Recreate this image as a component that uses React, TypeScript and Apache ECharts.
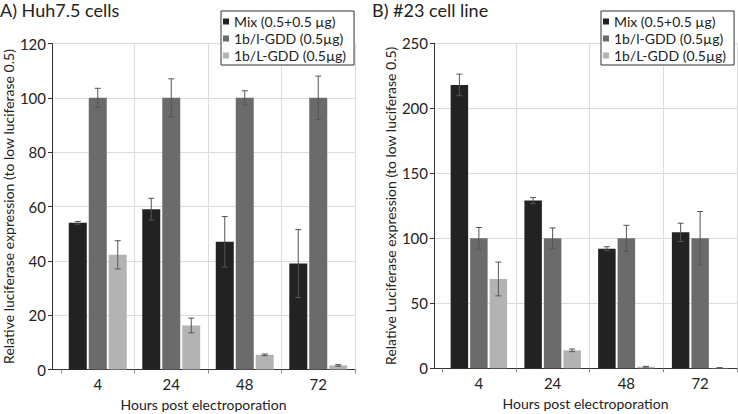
import React, { useEffect, useRef } from 'react';
import * as echarts from 'echarts';

const categories = ['4', '24', '48', '72'];
const seriesNames = ['Mix (0.5+0.5 µg)', '1b/l-GDD (0.5µg)', '1b/L-GDD (0.5µg)'];
const colors = ['#222222', '#6b6b6b', '#b3b3b3'];

// Panel A: Huh7.5 cells
const huhMix = [54, 59, 47, 39];
const huhMixErr = [0.5, 4, 9.3, 12.5];
const huhIGdd = [100, 100, 100, 100];
const huhIGddErr = [3.5, 7, 2.6, 8];
const huhLGdd = [42.2, 16.2, 5.4, 1.5];
const huhLGddErr = [5.2, 2.7, 0.3, 0.3];

// Panel B: #23 cell line
const c23Mix = [218, 129, 92, 104.6];
const c23MixErr = [8.3, 2.3, 1.5, 7];
const c23IGdd = [100, 100, 100, 100];
const c23IGddErr = [8.3, 8, 10, 20.6];
const c23LGdd = [68.7, 13.8, 1.2, 0.3];
const c23LGddErr = [13, 1, 0.3, 0.15];

const yTicksA = { min: 0, max: 120, interval: 20 };
const yTicksB = { min: 0, max: 250, interval: 50 };

const FONT = 'Lato, "Open Sans", sans-serif';
const TXT = '#222';

function App() {
  const ref = useRef<HTMLDivElement>(null);
  useEffect(() => {
    if (!ref.current) return;
    const chart = echarts.init(ref.current, undefined, { renderer: 'svg' });

    const errSeries = (name: string, vals: number[], errs: number[], k: number, ax: number, step: number) => ({
      type: 'custom',
      name,
      xAxisIndex: ax,
      yAxisIndex: ax,
      z: 5,
      silent: true,
      data: vals.map((v, i) => [i, v, errs[i]]),
      encode: { x: 0, y: 1 },
      renderItem: (params: any, api: any) => {
        const i = api.value(0);
        const v = api.value(1);
        const e = api.value(2);
        const top = api.coord([i, v + e]);
        const bot = api.coord([i, Math.max(0, v - e)]);
        const x = top[0] + (k - 1) * step;
        const st = { stroke: '#555', lineWidth: 1 };
        return {
          type: 'group',
          children: [
            { type: 'line', shape: { x1: x, y1: top[1], x2: x, y2: bot[1] }, style: st },
            { type: 'line', shape: { x1: x - 3, y1: top[1], x2: x + 3, y2: top[1] }, style: st },
            { type: 'line', shape: { x1: x - 3, y1: bot[1], x2: x + 3, y2: bot[1] }, style: st },
          ],
        };
      },
    });

    const barSeries = (k: number, vals: number[], ax: number, w: number, gap: string) => ({
      type: 'bar',
      name: seriesNames[k],
      xAxisIndex: ax,
      yAxisIndex: ax,
      data: vals,
      barWidth: w,
      barGap: gap,
      itemStyle: { color: colors[k] },
      z: 3,
    });

    const catAxis = (grid: number) => ({
      type: 'category',
      gridIndex: grid,
      data: categories,
      boundaryGap: true,
      axisLine: { show: false },
      axisTick: { show: true, length: 4, interval: 0, lineStyle: { color: '#888' } },
      axisLabel: { fontSize: 15, color: TXT, fontFamily: FONT, margin: 7 },
      splitLine: { show: true, interval: (i: number) => i !== 0, lineStyle: { color: '#dcdcdc', width: 1 } },
    });

    const frameX = (grid: number) => ({
      type: 'value',
      gridIndex: grid,
      min: 0,
      max: 1,
      axisLine: { show: true, onZero: false, lineStyle: { color: '#333', width: 1 } },
      axisTick: { show: false },
      axisLabel: { show: false },
      splitLine: { show: false },
      name: 'Hours post electroporation',
      nameLocation: 'middle',
      nameGap: 28,
      nameTextStyle: { fontSize: 14, color: TXT, fontFamily: FONT },
    });

    const frameY = (grid: number, t: any, name: string) => ({
      type: 'value',
      gridIndex: grid,
      min: t.min,
      max: t.max,
      interval: t.interval,
      axisLine: { show: true, lineStyle: { color: '#333', width: 1 } },
      axisTick: { show: true, length: 4, lineStyle: { color: '#333' } },
      axisLabel: { fontSize: 15, color: TXT, fontFamily: FONT, margin: 6 },
      splitLine: { show: true, lineStyle: { color: '#dcdcdc', width: 1 } },
      name,
      nameLocation: 'middle',
      nameGap: 37,
      nameTextStyle: { fontSize: 14, color: TXT, fontFamily: FONT },
    });

    const hiddenY = (grid: number, t: any) => ({
      type: 'value',
      gridIndex: grid,
      min: t.min,
      max: t.max,
      interval: t.interval,
      show: false,
      splitLine: { show: false },
    });

    const legend = (left: number) => ({
      data: seriesNames,
      orient: 'vertical',
      left,
      top: 11,
      icon: 'rect',
      itemWidth: 6,
      itemHeight: 6,
      itemGap: 0,
      borderColor: '#333',
      borderWidth: 1,
      backgroundColor: '#fff',
      padding: [2, 8, 1, 2],
      textStyle: { fontSize: 14, color: TXT, fontFamily: FONT, lineHeight: 17 },
      z: 10,
    });

    const gridBase = { outerBoundsMode: 'none', containLabel: false };

    chart.setOption({
      animation: false,
      backgroundColor: '#fff',
      title: [
        { text: 'A) Huh7.5 cells', left: 0, top: 1, padding: 0, textStyle: { fontSize: 18, fontWeight: 'normal', color: TXT, fontFamily: FONT } },
        { text: 'B) #23 cell line', left: 372, top: 1, padding: 0, textStyle: { fontSize: 18, fontWeight: 'normal', color: TXT, fontFamily: FONT } },
      ],
      legend: [legend(221), legend(601)],
      grid: [
        { ...gridBase, left: 61, top: 43.5, width: 294, height: 326 },
        { ...gridBase, left: 52, top: 43.5, width: 303, height: 326 },
        { ...gridBase, left: 442, top: 43.3, width: 295, height: 325 },
        { ...gridBase, left: 434, top: 43.3, width: 303, height: 325 },
      ],
      xAxis: [catAxis(0), frameX(1), catAxis(2), frameX(3)],
      yAxis: [
        hiddenY(0, yTicksA),
        frameY(1, yTicksA, 'Relative luciferase expression (to low luciferase 0.5)'),
        hiddenY(2, yTicksB),
        frameY(3, yTicksB, 'Relative Luciferase expression (to low luciferase 0.5)'),
      ],
      series: [
        barSeries(0, huhMix, 0, 18, '11%'),
        barSeries(1, huhIGdd, 0, 18, '11%'),
        barSeries(2, huhLGdd, 0, 18, '11%'),
        errSeries('errA0', huhMix, huhMixErr, 0, 0, 20),
        errSeries('errA1', huhIGdd, huhIGddErr, 1, 0, 20),
        errSeries('errA2', huhLGdd, huhLGddErr, 2, 0, 20),
        barSeries(0, c23Mix, 2, 17.5, '11.4%'),
        barSeries(1, c23IGdd, 2, 17.5, '11.4%'),
        barSeries(2, c23LGdd, 2, 17.5, '11.4%'),
        errSeries('errB0', c23Mix, c23MixErr, 0, 2, 19.5),
        errSeries('errB1', c23IGdd, c23IGddErr, 1, 2, 19.5),
        errSeries('errB2', c23LGdd, c23LGddErr, 2, 2, 19.5),
      ],
    });

    return () => chart.dispose();
  }, []);

  return <div ref={ref} style={{ width: 738, height: 414, position: 'absolute', left: 0, top: 0 }} />;
}

export default App;
